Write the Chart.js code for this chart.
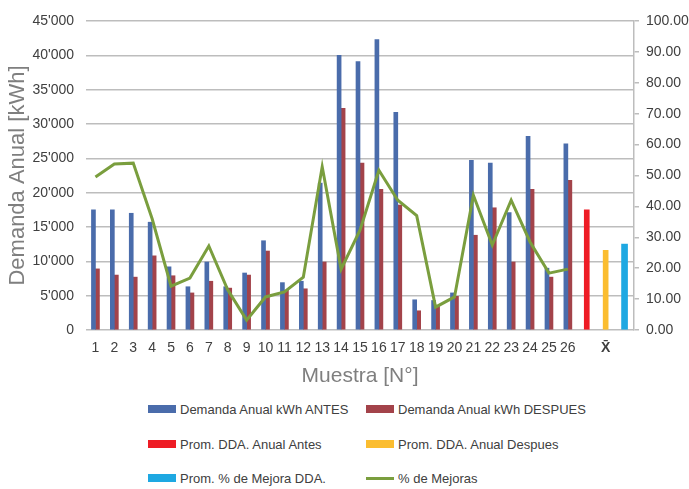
<!DOCTYPE html>
<html>
<head>
<meta charset="utf-8">
<script src="https://cdn.jsdelivr.net/npm/chart.js@4.4.1/dist/chart.umd.min.js"></script>
<style>
  body { margin: 0; background: #fff; }
  #wrap { position: relative; width: 689px; height: 489px; }
  #chartBox { position: absolute; left: 0; top: 0; width: 689px; height: 395px; }
  #legend { position: absolute; left: 0; top: 395px; width: 689px; height: 94px;
    font-family: "Liberation Sans", Arial, sans-serif;
    font-size: 13px; color: #404040; }
  .item { position: absolute; height: 20px; display: flex; align-items: center; white-space: nowrap; }
  .swatch { width: 28px; margin-right: 4px; }
</style>
</head>
<body>
<div id="wrap">
  <div id="chartBox"><canvas id="chart"></canvas></div>
  <div id="legend"></div>
</div>
<script>
const FONT = '"Liberation Sans", Arial, sans-serif';

// muestras 1..26, then an empty slot, the mean (x̄) and another empty slot
const labels = ['1','2','3','4','5','6','7','8','9','10','11','12','13','14','15','16','17','18','19','20','21','22','23','24','25','26','','X\u0304',''];

const antes = [17500, 17500, 17000, 15700, 9200, 6300, 9900, 6300, 8300, 13000, 6900, 7100, 21400,
  40000, 39100, 42300, 31700, 4400, 4300, 5400, 24700, 24300, 17100, 28200, 9000, 27100];
const despues = [8900, 8000, 7700, 10800, 7900, 5400, 7100, 6100, 8000, 11500, 5800, 6000, 9900,
  32300, 24300, 20500, 18200, 2800, 3600, 4900, 13800, 17800, 9900, 20500, 7700, 21800];
const mejoras = [49.5, 53.7, 54.0, 36.0, 14.2, 16.8, 27.2, 13.0, 3.2, 10.7, 12.3, 17.1, 52.8,
  19.7, 32.3, 51.7, 42.0, 37.0, 7.4, 10.7, 43.6, 27.5, 42.0, 28.5, 18.4, 19.7];

const promAntes = 17500;
const promDespues = 11600;
const promMejora = 27.8;

const pad = (arr) => labels.map((_, i) => (i < arr.length ? arr[i] : null));
const only = (idx, v) => labels.map((_, i) => (i === idx ? v : null));

const gridColor = '#bdbdbd';

const chart = new Chart(document.getElementById('chart'), {
  data: {
    labels: labels,
    datasets: [
      { type: 'bar', label: 'Demanda Anual kWh ANTES', data: pad(antes), backgroundColor: '#4a6cab',
        barThickness: 4, skipNull: true, yAxisID: 'y', order: 2 },
      { type: 'bar', label: 'Demanda Anual kWh DESPUES', data: pad(despues), backgroundColor: '#a3434a',
        barThickness: 4, skipNull: true, yAxisID: 'y', order: 2 },
      { type: 'bar', label: 'Prom. DDA. Anual Antes', data: only(26, promAntes), backgroundColor: '#ee1c25',
        barThickness: 5, skipNull: true, yAxisID: 'y', order: 2 },
      { type: 'bar', label: 'Prom. DDA. Anual Despues', data: only(27, promDespues), backgroundColor: '#fbbd30',
        barThickness: 5, skipNull: true, yAxisID: 'y', order: 2 },
      { type: 'bar', label: 'Prom. % de Mejora DDA.', data: only(28, promMejora), backgroundColor: '#1ea8e2',
        barThickness: 6, skipNull: true, yAxisID: 'y1', order: 2 },
      { type: 'line', label: '% de Mejoras', data: pad(mejoras), borderColor: '#7a9e3e', backgroundColor: '#7a9e3e',
        borderWidth: 3, pointRadius: 0, tension: 0, spanGaps: false, yAxisID: 'y1', order: 1 }
    ]
  },
  options: {
    responsive: true,
    maintainAspectRatio: false,
    animation: false,
    layout: { padding: { top: 21, bottom: 3, left: 0, right: 0 } },
    plugins: {
      legend: { display: false },
      tooltip: { enabled: false }
    },
    scales: {
      x: {
        grid: { display: false, drawTicks: false },
        border: { display: false },
        ticks: {
          autoSkip: false, maxRotation: 0, padding: 10, color: '#404040',
          font: (ctx) => ({ family: FONT, size: 14, weight: ctx.tick && ctx.tick.label === 'X\u0304' ? 'bold' : 'normal' })
        },
        title: { display: true, text: 'Muestra [N°]', color: '#7f7f7f',
          font: { family: FONT, size: 21 }, padding: { top: 0, bottom: 3 } },
        afterFit: (scale) => { scale.height = 62; }
      },
      y: {
        position: 'left',
        min: 0, max: 45000,
        ticks: {
          stepSize: 5000, padding: 12, color: '#404040', font: { family: FONT, size: 14 },
          callback: (v) => (v === 0 ? '0' : (v / 1000) + "'000")
        },
        grid: { color: gridColor, lineWidth: 1.5, drawTicks: false },
        border: { display: false },
        title: { display: true, text: 'Demanda Anual [kWh]', color: '#7f7f7f',
          font: { family: FONT, size: 22 }, padding: { top: 5, bottom: 0 } },
        afterFit: (scale) => { scale.width = 86; }
      },
      y1: {
        position: 'right',
        min: 0, max: 100,
        ticks: {
          stepSize: 10, padding: 7, color: '#404040', font: { family: FONT, size: 14 },
          callback: (v) => v.toFixed(2)
        },
        grid: { drawOnChartArea: false, drawTicks: true, tickLength: 5, color: gridColor, lineWidth: 1.5 },
        border: { display: true, color: gridColor, width: 1.5 },
        afterFit: (scale) => { scale.width = 55; }
      }
    }
  }
});

// legend in two columns, three rows, built from the chart's datasets
const legendBox = document.getElementById('legend');
const cols = [148, 366];
const rows = [14, 49, 83];
chart.data.datasets.forEach((ds, i) => {
  const item = document.createElement('div');
  item.className = 'item';
  item.style.left = cols[i % 2] + 'px';
  item.style.top = (rows[Math.floor(i / 2)] - 10) + 'px';
  const sw = document.createElement('span');
  sw.className = 'swatch';
  sw.style.background = ds.type === 'line' ? ds.borderColor : ds.backgroundColor;
  sw.style.height = ds.type === 'line' ? '3px' : '8px';
  const txt = document.createElement('span');
  txt.textContent = ds.label;
  item.appendChild(sw);
  item.appendChild(txt);
  legendBox.appendChild(item);
});
</script>
</body>
</html>
